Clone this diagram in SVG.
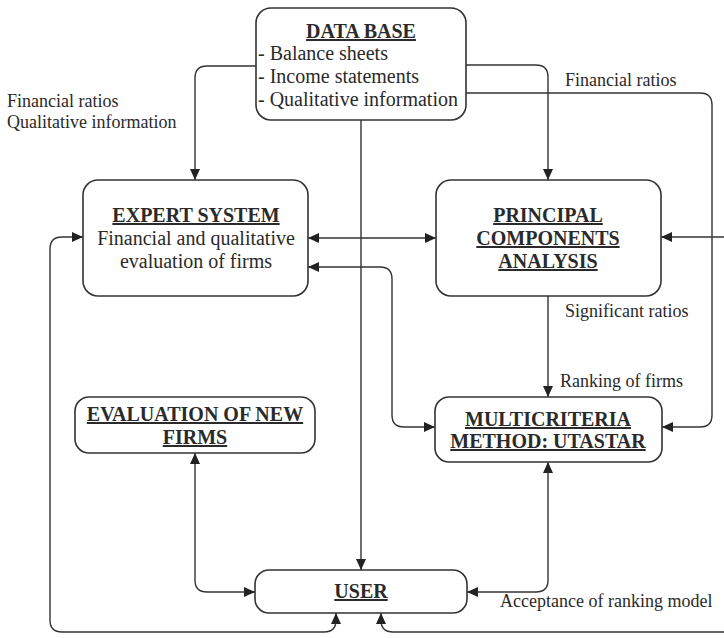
<svg xmlns="http://www.w3.org/2000/svg" width="724" height="638" viewBox="0 0 724 638">
<style>
.box{fill:#fff;stroke:#333;stroke-width:1.6}
.ln{fill:none;stroke:#333;stroke-width:1.4}
text{fill:#2a2a2a}
.t{font-size:20px;font-weight:bold;text-decoration:underline;text-anchor:middle}
.b{font-size:20px}
.c{font-size:20px;text-anchor:middle}
.l{font-size:18px}
</style>
<defs>
<marker id="ah" markerUnits="userSpaceOnUse" markerWidth="12" markerHeight="10" refX="11" refY="5" orient="auto-start-reverse" viewBox="0 0 12 10">
<path d="M0,0 L11,5 L0,10 Z" fill="#222"/>
</marker>
</defs>
<rect width="724" height="638" fill="#fff"/>
<g id="connectors">
<path class="ln" d="M256,66 H207 Q195,66 195,78 V180" marker-end="url(#ah)"/>
<path class="ln" d="M466,65 H536 Q548,65 548,77 V180" marker-end="url(#ah)"/>
<path class="ln" d="M466,93 H700 Q712,93 712,105 V415 Q712,427 700,427 H662" marker-end="url(#ah)"/>
<path class="ln" d="M361,120 V570" marker-end="url(#ah)"/>
<path class="ln" d="M308,238 H436" marker-start="url(#ah)" marker-end="url(#ah)"/>
<path class="ln" d="M308,267 H380 Q392,267 392,279 V415 Q392,427 404,427 H435" marker-start="url(#ah)" marker-end="url(#ah)"/>
<path class="ln" d="M548,296 V397" marker-end="url(#ah)"/>
<path class="ln" d="M195,453 V580 Q195,592 207,592 H255" marker-start="url(#ah)" marker-end="url(#ah)"/>
<path class="ln" d="M548,462 V580 Q548,592 536,592 H467" marker-start="url(#ah)" marker-end="url(#ah)"/>
<path class="ln" d="M83,237 H62 Q50,237 50,249 V620 Q50,632 62,632 H324 Q336,632 336,620 V613" marker-start="url(#ah)" marker-end="url(#ah)"/>
<path class="ln" d="M724,632 H393 Q381,632 381,620 V613" marker-end="url(#ah)"/>
<path class="ln" d="M724,237 H661" marker-end="url(#ah)"/>
</g>
<g font-family="'Liberation Serif', 'DejaVu Serif', serif">
<g id="labels">
<text class="l" x="7" y="107">Financial ratios</text>
<text class="l" x="7" y="128">Qualitative information</text>
<text class="l" x="565" y="86">Financial ratios</text>
<text class="l" x="565" y="317">Significant ratios</text>
<text class="l" x="560" y="387">Ranking of firms</text>
<text class="l" x="500" y="607">Acceptance of ranking model</text>
</g>
<g id="database">
<rect class="box" x="256" y="8" width="210" height="112" rx="15"/>
<text class="t" x="361" y="38">DATA BASE</text>
<text class="b" x="258" y="60">- Balance sheets</text>
<text class="b" x="258" y="83">- Income statements</text>
<text class="b" x="258" y="106">- Qualitative information</text>
</g>
<g id="expert">
<rect class="box" x="83" y="180" width="225" height="116" rx="15"/>
<text class="t" x="196" y="222">EXPERT SYSTEM</text>
<text class="c" x="196" y="245">Financial and qualitative</text>
<text class="c" x="196" y="268">evaluation of firms</text>
</g>
<g id="pca">
<rect class="box" x="436" y="180" width="225" height="116" rx="15"/>
<text class="t" x="548" y="222">PRINCIPAL</text>
<text class="t" x="548" y="245">COMPONENTS</text>
<text class="t" x="548" y="268">ANALYSIS</text>
</g>
<g id="evaluation">
<rect class="box" x="75" y="397" width="240" height="56" rx="14"/>
<text class="t" x="195" y="421">EVALUATION OF NEW</text>
<text class="t" x="195" y="444">FIRMS</text>
</g>
<g id="multicriteria">
<rect class="box" x="435" y="397" width="227" height="65" rx="14"/>
<text class="t" x="548" y="426">MULTICRITERIA</text>
<text class="t" x="548" y="448">METHOD: UTASTAR</text>
</g>
<g id="user">
<rect class="box" x="255" y="570" width="212" height="43" rx="14"/>
<text class="t" x="361" y="598">USER</text>
</g>
</g>
</svg>
